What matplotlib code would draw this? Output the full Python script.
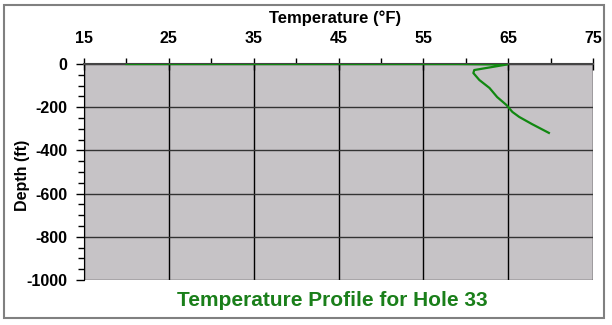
import matplotlib.pyplot as plt
from matplotlib.patches import Rectangle
from matplotlib.ticker import MultipleLocator

# temperature log for hole 33
temps = [20, 33, 59, 64.9, 61.0, 60.9, 61.6, 62.8, 63.7, 64.8, 65.5, 66.3, 67.8, 69.8]
depths = [0, 0, 0, -2, -28, -42, -74, -111, -153, -190, -222, -245, -278, -319]

x_ticks = [15, 25, 35, 45, 55, 65, 75]
y_ticks = [0, -200, -400, -600, -800, -1000]

plt.rcParams['font.family'] = ['Liberation Sans', 'DejaVu Sans']
plt.rcParams['axes.unicode_minus'] = False

fig = plt.figure(figsize=(6.12, 3.25), dpi=100)
ax = fig.add_axes([84 / 612, 1 - 280 / 325, (593 - 84) / 612, 216 / 325])

ax.set_facecolor('#c6c3c6')
ax.plot(temps, depths, color='#118811', lw=1.6, zorder=3)

ax.set_xlim(15, 75)
ax.set_ylim(-1000, 0)
ax.set_xticks(x_ticks)
ax.set_yticks(y_ticks)
ax.xaxis.set_minor_locator(MultipleLocator(5))
ax.yaxis.set_minor_locator(MultipleLocator(50))

ax.xaxis.tick_top()
ax.tick_params(axis='x', which='major', direction='inout', length=8, width=1, pad=9,
               labelsize=11.5, colors='black')
ax.tick_params(axis='x', which='minor', direction='out', length=4, width=1)
ax.tick_params(axis='y', which='major', direction='out', length=6, width=1, pad=6,
               labelsize=11.5)
ax.tick_params(axis='y', which='minor', direction='out', length=4, width=1)
for lab in ax.get_xticklabels() + ax.get_yticklabels():
    lab.set_fontweight('bold')

ax.grid(True, which='major', axis='x', color='black', lw=1)
ax.grid(True, which='major', axis='y', color='#333333', lw=1)

ax.spines['right'].set_visible(False)
ax.spines['bottom'].set_visible(False)
ax.spines['left'].set_color('black')
ax.spines['top'].set_color('#444444')
ax.spines['top'].set_linewidth(1.5)

# axis titles placed by hand to match the original layout
fig.text(335 / 612, 1 - 18 / 325, 'Temperature (\u00b0F)', fontsize=12, fontweight='bold',
         ha='center', va='center')
fig.text(22 / 612, 1 - 175 / 325, 'Depth (ft)', fontsize=11.5, fontweight='bold',
         rotation=90, ha='center', va='center')

fig.text(0.543, 1 - 300 / 325, 'Temperature Profile for Hole 33', color='#1a7f1a',
         fontsize=15, fontweight='bold', ha='center', va='center')

fig.patches.append(Rectangle((4 / 612, 1 - 318 / 325), 600 / 612, 313 / 325,
                             transform=fig.transFigure, fill=False,
                             edgecolor='#808080', lw=1.5))

fig.savefig('out.png', dpi=100)
